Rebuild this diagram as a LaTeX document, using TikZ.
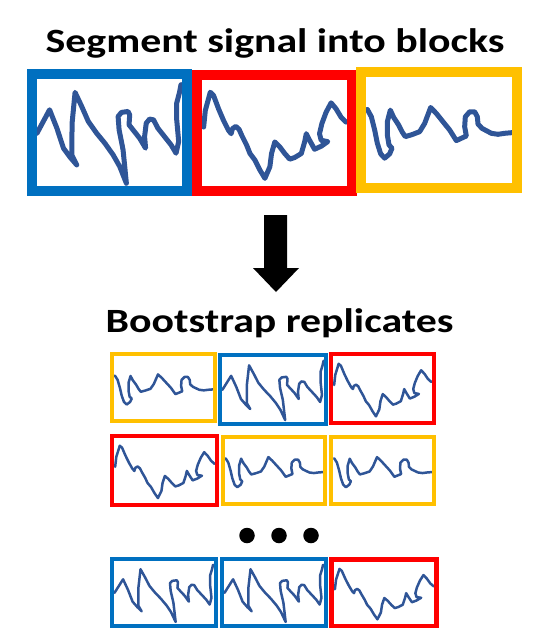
\documentclass[tikz,border=0pt]{standalone}
\usepackage{fontspec}
\setmainfont{Carlito}
\newfontfamily\titlefont{Carlito}[FakeStretch=1.23]
\definecolor{bluec}{HTML}{0070C0}
\definecolor{redc}{HTML}{FF0000}
\definecolor{yellowc}{HTML}{FFC000}
\definecolor{sigc}{HTML}{2F5597}
\tikzset{
  sig/.style={draw=sigc, line join=round, line cap=round},
  title/.style={font=\titlefont\bfseries\fontsize{34}{40}\selectfont, anchor=base, inner sep=0pt},
  dot/.style={circle, fill=black, inner sep=0pt, minimum size=15.5pt}
}
% signals, in a 438 x 320 reference box
\newcommand\sigB{(0,162) -- (38,92) -- (60,147) -- (80,207) -- (100,234) -- (120,257) -- (105,227) -- (106,132) -- (115,40) -- (135,82) -- (155,127) -- (180,162) -- (205,192) -- (230,227) -- (250,262) -- (270,312) -- (260,212) -- (248,152) -- (245,112) -- (255,100) -- (275,97) -- (280,107) -- (278,137) -- (290,152) -- (310,177) -- (328,207) -- (325,172) -- (330,132) -- (340,120) -- (352,122) -- (365,147) -- (385,172) -- (405,197) -- (420,222) -- (428,187) -- (422,122) -- (422,72) -- (430,42) -- (435,17)}
\newcommand\sigR{(5,142) -- (10,92) -- (25,37) -- (35,47) -- (50,87) -- (65,122) -- (80,152) -- (88,162) -- (92,147) -- (102,140) -- (112,149) -- (120,167) -- (135,197) -- (145,222) -- (160,242) -- (175,272) -- (190,297) -- (205,262) -- (210,222) -- (220,187) -- (235,202) -- (250,222) -- (265,239) -- (280,234) -- (300,222) -- (310,187) -- (315,162) -- (325,182) -- (340,209) -- (360,200) -- (380,186) -- (360,182) -- (355,162) -- (362,132) -- (375,97) -- (390,69) -- (405,87) -- (420,112) -- (435,127)}
\newcommand\sigY{(4,98) -- (16,120) -- (26,160) -- (34,200) -- (44,232) -- (56,245) -- (71,232) -- (78,215) -- (69,205) -- (64,175) -- (64,135) -- (73,100) -- (83,122) -- (98,145) -- (108,165) -- (118,180) -- (138,174) -- (161,165) -- (176,140) -- (194,92) -- (211,110) -- (231,135) -- (251,160) -- (271,192) -- (286,185) -- (301,178) -- (296,150) -- (298,120) -- (311,105) -- (326,105) -- (334,120) -- (336,142) -- (348,155) -- (376,170) -- (396,173) -- (416,170) -- (438,168)}
% #1 colour, #2 frame width, #3 x0, #4 y0, #5 x1, #6 y1 (stroke centres), #7 signal, #8 signal width
\newcommand\blk[8]{%
  \begin{scope}[shift={({#3+#2/2},{#4+#2/2})}, xscale={(#5-#3-#2)/438}, yscale={(#6-#4-#2)/320}]
    \draw[sig, line width=#8pt] #7;
  \end{scope}
  \draw[draw=#1, line width=#2pt] (#3,#4) rectangle (#5,#6);}
\begin{document}
\begin{tikzpicture}[x=1pt, y=-1pt]
\useasboundingbox (0,0) rectangle (550,629);
\node[title] (t1) at (275,52) {Segment signal into blocks};
% top blocks
\blk{bluec}{10}{32}{74}{187}{191}{\sigB}{5}
\blk{redc}{10}{197}{75}{352}{191}{\sigR}{5}
\blk{yellowc}{10}{361}{72}{517}{188}{\sigY}{5}
% arrow
\fill[black] (264,215) -- (287,215) -- (287,268) -- (299,268) -- (276,292) -- (253,268) -- (264,268) -- cycle;
\node[title] (t2) at (279.5,332) {Bootstrap replicates};
% row 1
\blk{yellowc}{4}{112}{354.3}{215.3}{421.3}{\sigY}{2.5}
\blk{bluec}{4}{220.3}{355.3}{326.3}{423.7}{\sigB}{2.5}
\blk{redc}{4}{331}{354.3}{434}{423}{\sigR}{2.5}
% row 2
\blk{redc}{4}{112}{436.3}{217.3}{504.7}{\sigR}{2.5}
\blk{yellowc}{4}{222.7}{437}{325.3}{504}{\sigY}{2.5}
\blk{yellowc}{4}{331.3}{437}{434}{504}{\sigY}{2.5}
% dots
\node[dot] (d1) at (247,535.5) {};
\node[dot] (d2) at (279,535.5) {};
\node[dot] (d3) at (311,535.5) {};
% row 3
\blk{bluec}{4.5}{112.2}{559.2}{216}{625.8}{\sigB}{2.5}
\blk{bluec}{4.5}{222.2}{559.2}{326}{625.8}{\sigB}{2.5}
\blk{redc}{4.5}{331.5}{559.5}{436.7}{626}{\sigR}{2.5}
\end{tikzpicture}
\end{document}
